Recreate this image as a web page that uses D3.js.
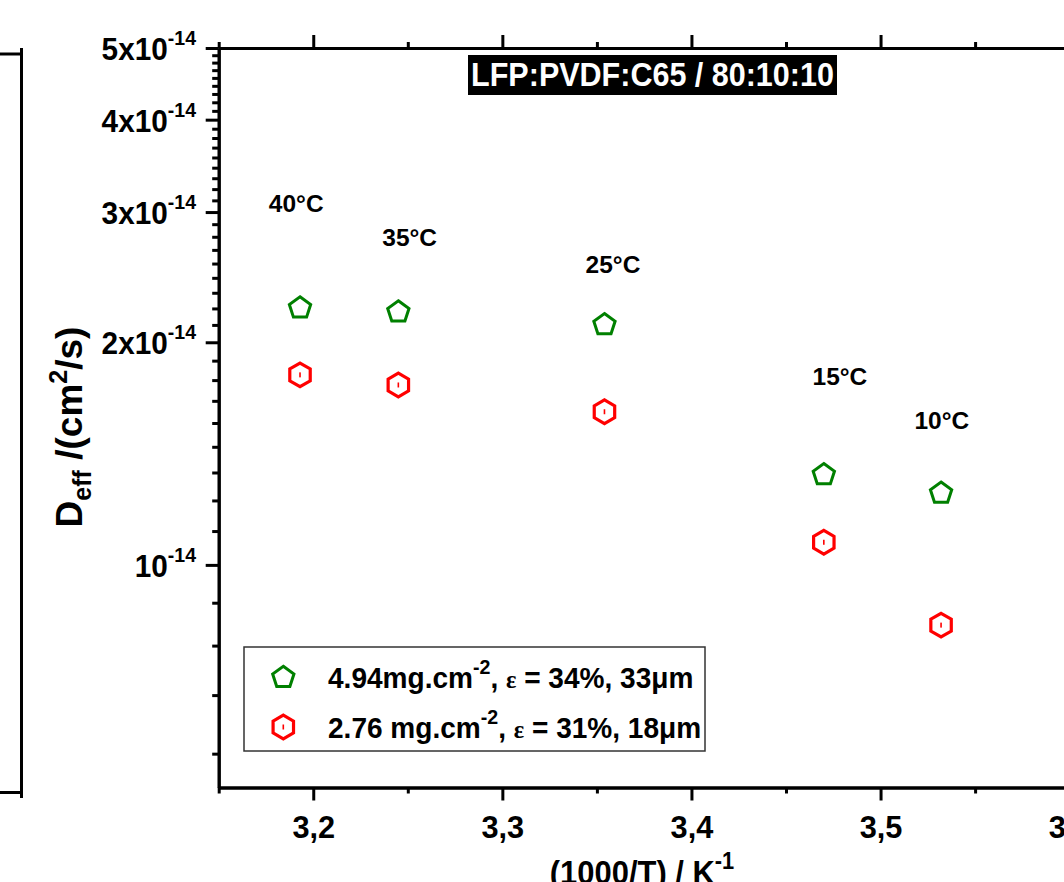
<!DOCTYPE html>
<html>
<head>
<meta charset="utf-8">
<script src="https://cdn.jsdelivr.net/npm/d3@7"></script>
<style>
  html, body { margin: 0; padding: 0; background: #fff; }
  svg { display: block; }
  text { font-family: "Liberation Sans", Arial, sans-serif; font-weight: bold; }
</style>
</head>
<body>
<script>
// ---- data ----
const xValues = [3.193, 3.245, 3.354, 3.470, 3.532];           // 1000/T (K^-1)
const seriesGreen = [2.225e-14, 2.198e-14, 2.112e-14, 1.324e-14, 1.250e-14];
const seriesRed   = [1.807e-14, 1.751e-14, 1.611e-14, 1.073e-14, 0.829e-14];
const tempLabels  = ["40°C", "35°C", "25°C", "15°C", "10°C"];
const tempLabelX  = [3.191, 3.251, 3.3585, 3.4785, 3.5324];
const tempLabelY  = [3.08e-14, 2.77e-14, 2.55e-14, 1.80e-14, 1.566e-14];
const xTicks      = [3.2, 3.3, 3.4, 3.5, 3.6];
const xTickLabels = ["3,2", "3,3", "3,4", "3,5", "3,6"];
const yTicks      = [1e-14, 2e-14, 3e-14, 4e-14, 5e-14];
const yTickMant   = ["10", "2x10", "3x10", "4x10", "5x10"];
const yTickExp    = "-14";
const titleText   = "LFP:PVDF:C65 / 80:10:10";
const legendMain  = ["4.94mg.cm", "2.76 mg.cm"];
const legendRest  = [" = 34%, 33μm", " = 31%, 18μm"];

const W = 1064, H = 882;
const SX = 0.93; // horizontal condensation of text

const svg = d3.select("body").append("svg").attr("width", W).attr("height", H);

const x = d3.scaleLinear().domain([3.15, 3.65]).range([218.7, 1164.2]);
const y = d3.scaleLog().domain([5e-15, 5e-14]).range([787.5, 48]);

// ---- left panel remnant ----
const rem = svg.append("g").attr("stroke", "#000").attr("stroke-width", 3).attr("fill", "none");
rem.append("line").attr("x1", 21.5).attr("x2", 21.5).attr("y1", 48).attr("y2", 798);
rem.append("line").attr("x1", 0).attr("x2", 21.5).attr("y1", 54).attr("y2", 54);
rem.append("line").attr("x1", 0).attr("x2", 21.5).attr("y1", 792.5).attr("y2", 792.5);

// ---- axes ----
const xMinor = d3.range(3.15, 3.651, 0.05).filter(v => !xTicks.some(t => Math.abs(t - v) < 1e-6));
const yMinor = [];
for (let n = 0; n < 5; n++) for (let k = 1; k < 9; k++) {
  const v = (n + k / 9) * 1e-14;
  if (v >= 5e-15 && v <= 5e-14) yMinor.push(v);
}

function styleAxis(g) {
  g.select(".domain").attr("stroke", "#000").attr("stroke-width", 3);
  g.selectAll(".tick line").attr("stroke", "#000").attr("stroke-width", 3);
}

const y0 = y(5e-15), yTop = y(5e-14), x0 = x(3.15), xR = x(3.65);

// bottom
svg.append("g").attr("transform", `translate(0,${y0})`)
  .call(d3.axisBottom(x).tickValues(xMinor).tickSize(6).tickFormat("").tickSizeOuter(0)).call(styleAxis);
const gxb = svg.append("g").attr("transform", `translate(0,${y0})`)
  .call(d3.axisBottom(x).tickValues(xTicks).tickSize(13).tickSizeOuter(0)
        .tickFormat((d, i) => xTickLabels[i])).call(styleAxis);
gxb.selectAll(".tick text").attr("font-size", 32).attr("fill", "#000")
  .attr("y", 50.5).attr("dy", null).attr("transform", `scale(0.96,1)`)
  .style("font-family", '"Liberation Sans", Arial, sans-serif').style("font-weight", "bold");

// top
svg.append("g").attr("transform", `translate(0,${yTop})`)
  .call(d3.axisTop(x).tickValues(xMinor).tickSize(6).tickFormat("").tickSizeOuter(0)).call(styleAxis);
svg.append("g").attr("transform", `translate(0,${yTop})`)
  .call(d3.axisTop(x).tickValues(xTicks).tickSize(13).tickFormat("").tickSizeOuter(0)).call(styleAxis);

// left
svg.append("g").attr("transform", `translate(${x0},0)`)
  .call(d3.axisLeft(y).tickValues(yMinor).tickSize(6.5).tickFormat("").tickSizeOuter(0)).call(styleAxis);
const gyl = svg.append("g").attr("transform", `translate(${x0},0)`)
  .call(d3.axisLeft(y).tickValues(yTicks).tickSize(13).tickFormat("").tickSizeOuter(0)).call(styleAxis);
gyl.selectAll(".tick").each(function (d, i) {
  const t = d3.select(this).append("text")
    .attr("text-anchor", "end").attr("fill", "#000").attr("font-size", 32)
    .attr("transform", `translate(-22.7,11.5) scale(${SX},1)`);
  t.append("tspan").text(yTickMant[i]);
  t.append("tspan").attr("font-size", 21).attr("dy", -15).text(yTickExp);
});

// right
svg.append("g").attr("transform", `translate(${xR},0)`)
  .call(d3.axisRight(y).tickValues(yMinor).tickSize(6.5).tickFormat("").tickSizeOuter(0)).call(styleAxis);
svg.append("g").attr("transform", `translate(${xR},0)`)
  .call(d3.axisRight(y).tickValues(yTicks).tickSize(13).tickFormat("").tickSizeOuter(0)).call(styleAxis);

// ---- axis titles ----
const yt = svg.append("text").attr("fill", "#000").attr("font-size", 37).attr("text-anchor", "middle")
  .attr("transform", "translate(82,427) rotate(-90)");
yt.append("tspan").text("D");
yt.append("tspan").attr("font-size", 25).attr("dy", 9).text("eff");
yt.append("tspan").attr("dy", -9).text(" /(cm");
yt.append("tspan").attr("font-size", 25).attr("dy", -15).text("2");
yt.append("tspan").attr("dy", 15).text("/s)");

const xt = svg.append("text").attr("fill", "#000").attr("font-size", 34).attr("text-anchor", "middle")
  .attr("transform", `translate(642,884) scale(0.91,1)`);
xt.append("tspan").text("(1000/T) / K");
xt.append("tspan").attr("font-size", 24).attr("dy", -15).text("-1");

// ---- title box ----
const tg = svg.append("g");
tg.append("rect").attr("fill", "#000").attr("x", 468).attr("y", 55).attr("width", 369).attr("height", 40);
tg.append("text").attr("fill", "#fff").attr("font-size", 33).attr("text-anchor", "middle")
  .attr("transform", `translate(652.5,86) scale(0.925,1)`).text(titleText);

// ---- markers ----
function polyPath(n, r, rot) {
  const pts = d3.range(n).map(i => {
    const a = rot + i * 2 * Math.PI / n;
    return [r * Math.sin(a), -r * Math.cos(a)];
  });
  return d3.line()(pts) + "Z";
}
const pentPath = polyPath(5, 11.2, 0);
const hexPath = polyPath(6, 11.8, 0);

function drawPent(g, cx, cy) {
  g.append("path").attr("d", pentPath).attr("transform", `translate(${cx},${cy})`)
    .attr("fill", "none").attr("stroke", "#008000").attr("stroke-width", 3).attr("stroke-linejoin", "miter");
}
function drawHex(g, cx, cy) {
  g.append("path").attr("d", hexPath).attr("transform", `translate(${cx},${cy})`)
    .attr("fill", "none").attr("stroke", "#ff0000").attr("stroke-width", 3.2);
  g.append("rect").attr("x", cx - 0.8).attr("y", cy - 2.5).attr("width", 1.6).attr("height", 5).attr("fill", "#ff0000");
}

const pts = svg.append("g");
xValues.forEach((xv, i) => drawPent(pts, x(xv), y(seriesGreen[i])));
xValues.forEach((xv, i) => drawHex(pts, x(xv), y(seriesRed[i])));

// ---- temperature labels ----
svg.append("g").selectAll("text").data(tempLabels).join("text")
  .attr("fill", "#000").attr("font-size", 24.5).attr("text-anchor", "middle")
  .attr("transform", (d, i) => `translate(${x(tempLabelX[i])},${y(tempLabelY[i]) + 8.5})`)
  .text(d => d);

// ---- legend ----
const lg = svg.append("g");
lg.append("rect").attr("x", 244).attr("y", 647).attr("width", 461).attr("height", 104)
  .attr("fill", "#fff").attr("stroke", "#333").attr("stroke-width", 1.5);
drawPent(lg, 283.3, 677.5);
drawHex(lg, 283.3, 727);
legendMain.forEach((m, i) => {
  const t = lg.append("text").attr("fill", "#000").attr("font-size", 30)
    .attr("transform", `translate(328,${688 + i * 50}) scale(0.935,1)`);
  t.append("tspan").text(m);
  t.append("tspan").attr("font-size", 21).attr("dy", -14).text("-2");
  t.append("tspan").attr("dy", 14).text(", ");
  t.append("tspan").attr("font-size", 26).style("font-family", '"Liberation Serif", serif').text("ε");
  t.append("tspan").text(legendRest[i]);
});
</script>
</body>
</html>
